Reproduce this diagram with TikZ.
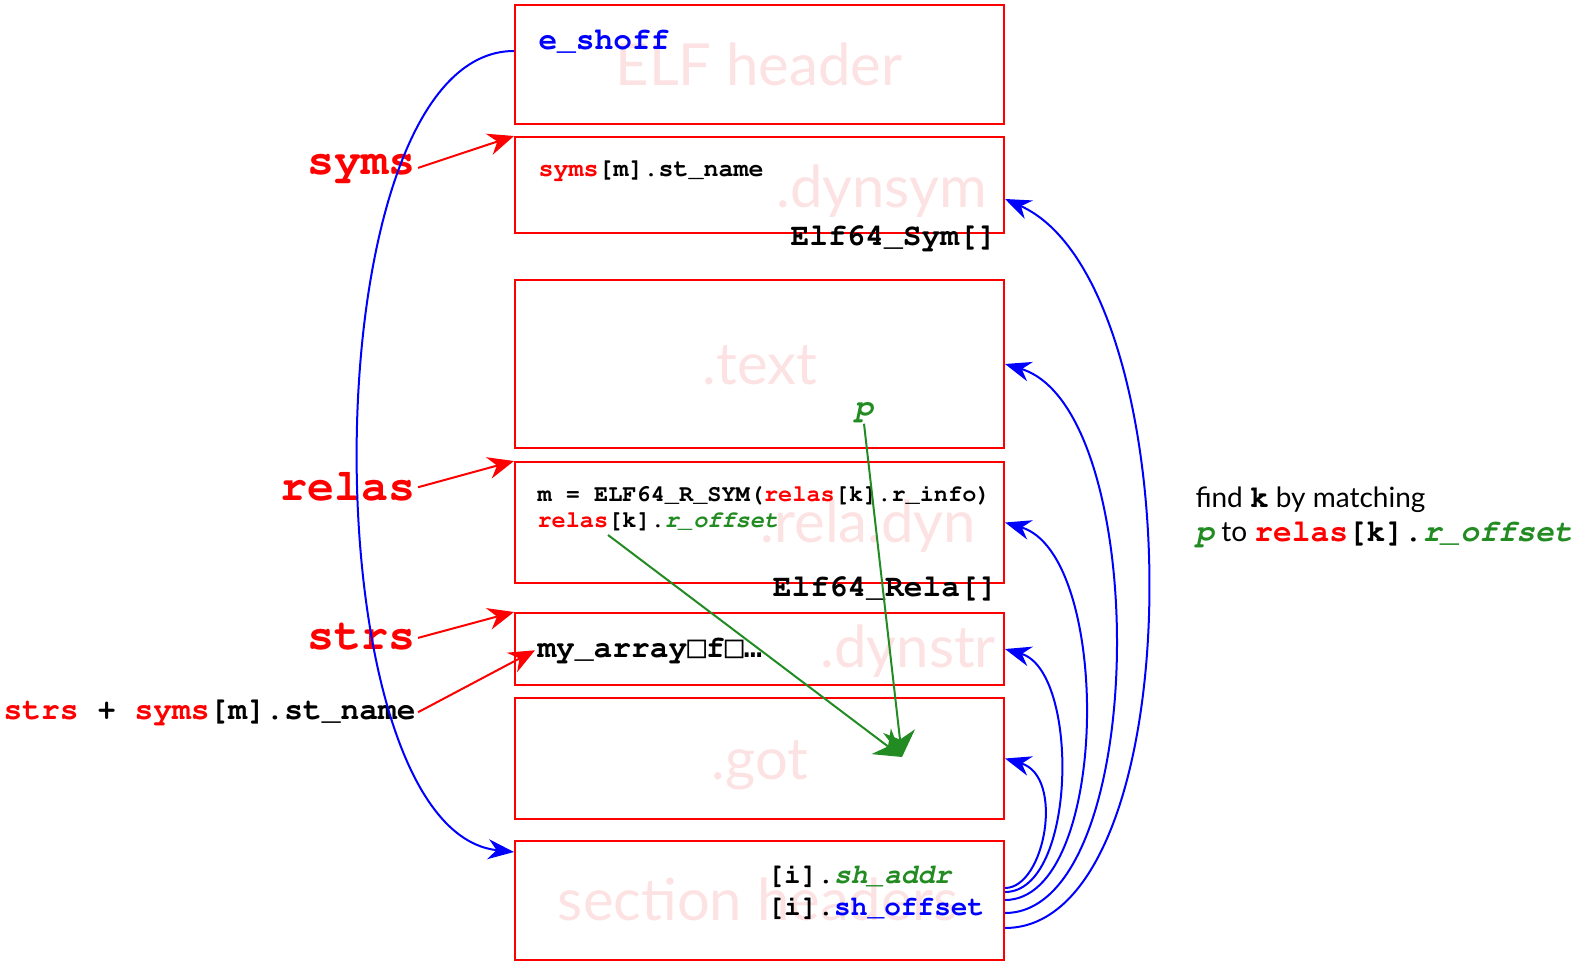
\documentclass[tikz,border=0pt]{standalone}
\usepackage[T1,TU]{fontenc}
\usepackage{fontspec}
\setmainfont{Lato}
\setmonofont{Liberation Mono}
\newfontfamily\tofufont{DejaVu Sans Mono}
\usetikzlibrary{arrows.meta,calc}

\definecolor{elfred}{RGB}{255,0,0}
\definecolor{elfblue}{RGB}{0,0,255}
\definecolor{elfgreen}{RGB}{34,139,34}
\definecolor{elfpink}{RGB}{252,226,226}

\newcommand{\cour}{\fontencoding{T1}\fontfamily{pcr}\bfseries}
\newcommand{\tofu}[1]{{\fontencoding{TU}\tofufont\mdseries #1}}
\newcommand{\rd}[1]{\textcolor{elfred}{#1}}
\newcommand{\bl}[1]{\textcolor{elfblue}{#1}}
\newcommand{\gr}[1]{\textcolor{elfgreen}{\slshape #1}}
\newcommand{\cd}[1]{{\cour\fontsize{15.6}{18}\selectfont #1}}

\tikzset{every picture/.style={line width=1pt}}
\tikzset{
  secbox/.style={draw=elfred, line width=1pt, minimum width=244.5pt, inner sep=0pt, anchor=north west},
  seclabel/.style={text=elfpink, font=\fontsize{29}{35}\selectfont, inner sep=0pt},
  code/.style={font=\cour\fontsize{#1}{#1}\selectfont, inner sep=0.75pt},
  code/.default=15.6,
  bigcode/.style={font=\cour\fontsize{22.5}{26}\selectfont, text=elfred, inner sep=0.75pt},
  redarrow/.style={draw=elfred, line width=1pt, -{Stealth[length=13pt,width=11pt]}},
  bluearrow/.style={draw=elfblue, line width=1pt, -{Stealth[length=13pt,width=10pt]}},
  greenarrow/.style={draw=elfgreen, line width=1pt, -{Stealth[length=13pt,width=16pt]}},
}

\begin{document}
\begin{tikzpicture}[x=0.5pt,y=0.5pt,yscale=-1,xscale=1]
\useasboundingbox (0,0) rectangle (1585,961);

% Section names (background)
\node[seclabel, anchor=base] (lelf) at (759,86) {ELF header};
\node[seclabel, anchor=base east] (ldynsym) at (988,208) {.dynsym};
\node[seclabel, anchor=base] (ltext) at (760,385) {.text};
\node[seclabel, anchor=base east] (lrela) at (977,543) {.rela.dyn};
\node[seclabel, anchor=base east] (ldynstr) at (997,668) {.dynstr};
\node[seclabel, anchor=base] (lgot) at (760,780) {.got};
\node[seclabel, anchor=base] (lshdr) at (758,920) {section headers};

%Shape: Rectangle
\node[secbox, minimum height=59.5pt] (elfhdr) at (514,4) {};
\node[secbox, minimum height=48pt] (dynsym) at (514,136) {};
\node[secbox, minimum height=84pt] (text) at (514,279) {};
\node[secbox, minimum height=60.5pt] (rela) at (514,461) {};
\node[secbox, minimum height=36pt] (dynstr) at (514,612) {};
\node[secbox, minimum height=60.5pt] (got) at (514,697) {};
\node[secbox, minimum height=59.5pt] (shdr) at (514,840) {};

% Text Node
\node[code, anchor=base west, text=elfblue] (eshoff) at (536,50) {e\_shoff};
% Text Node
\node[code=12.5, anchor=base west] (stname) at (536,177) {\rd{syms}[m].st\_name};
% Text Node
\node[code, anchor=base east] (symtype) at (999,246) {Elf64\_Sym[]};
% Text Node
\node[code, anchor=base, text=elfgreen] (p) at (864,417) {\slshape p};
% Text Node
\node[code=11.8, anchor=base west] (rinfo) at (535,502) {m = ELF64\_R\_SYM(\rd{relas}[k].r\_info)};
% Text Node
\node[code=11.8, anchor=base west] (roff) at (535,528) {\rd{relas}[k].\gr{r\_offset}};
% Text Node
\node[code, anchor=base east] (relatype) at (1000,597) {Elf64\_Rela[]};
% Text Node
\node[code, anchor=base west] (myarr) at (535,658) {my\_array\tofu{□}f\tofu{□…}};
% Text Node
\node[code=13.9, anchor=base west] (shaddr) at (765,883) {[i].\gr{sh\_addr}};
% Text Node
\node[code=13.9, anchor=base west] (shoff) at (765,915) {[i].\bl{sh\_offset}};

% Text Node
\node[bigcode, anchor=base east] (lsyms) at (418,175) {syms};
% Text Node
\node[bigcode, anchor=base east] (lrelas) at (418,501) {relas};
% Text Node
\node[bigcode, anchor=base east] (lstrs) at (418,650) {strs};
% Text Node
\node[code, anchor=base east] (lname) at (418,720) {\rd{strs} + \rd{syms}[m].st\_name};

% Text Node
\node[anchor=base west, inner sep=0.75pt, font=\fontsize{14}{17}\selectfont] (note1) at (1193,508) {find \cd{k} by matching};
% Text Node
\node[anchor=base west, inner sep=0.75pt, font=\fontsize{14}{17}\selectfont] (note2) at (1193,542) {\cd{\gr{p}} to \cd{\rd{relas}[k].\gr{r\_offset}}};

%Straight Lines
\draw[redarrow] (lsyms.east) -- (dynsym.north west);
\draw[redarrow] (lrelas.east) -- (rela.north west);
\draw[redarrow] (lstrs.east) -- (dynstr.north west);
\draw[redarrow] (lname.east) -- (myarr.west);

%Straight Lines
\coordinate (gottip) at (902,757);
\coordinate (roffsrc) at ($(roff.base west)+(73,7)$);
\draw[greenarrow] (p.south) -- (gottip);
\draw[greenarrow] (roffsrc) -- (gottip);

%Curve Lines
\coordinate (eshoffout) at ($(elfhdr.north west)+(0,47)$);
\coordinate (shin) at ($(shdr.north west)+(0,12)$);
\draw[bluearrow] (eshoffout) .. controls +(-207,0) and +(-207,-22) .. (shin);
\draw[bluearrow] ($(shdr.east)+(0,-12.5)$) .. controls +(40,0) and +(60,18) .. (got.east);
\draw[bluearrow] ($(shdr.east)+(0,-8.5)$) .. controls +(72,0) and +(75,22) .. (dynstr.east);
\draw[bluearrow] ($(shdr.east)+(0,-0.5)$) .. controls +(105,0) and +(108,32) .. (rela.east);
\draw[bluearrow] ($(shdr.east)+(0,12.5)$) .. controls +(145,0) and +(148,45) .. (text.east);
\draw[bluearrow] ($(shdr.east)+(0,27.5)$) .. controls +(190,0) and +(190,85) .. ($(dynsym.east)+(0,14)$);

\end{tikzpicture}
\end{document}
